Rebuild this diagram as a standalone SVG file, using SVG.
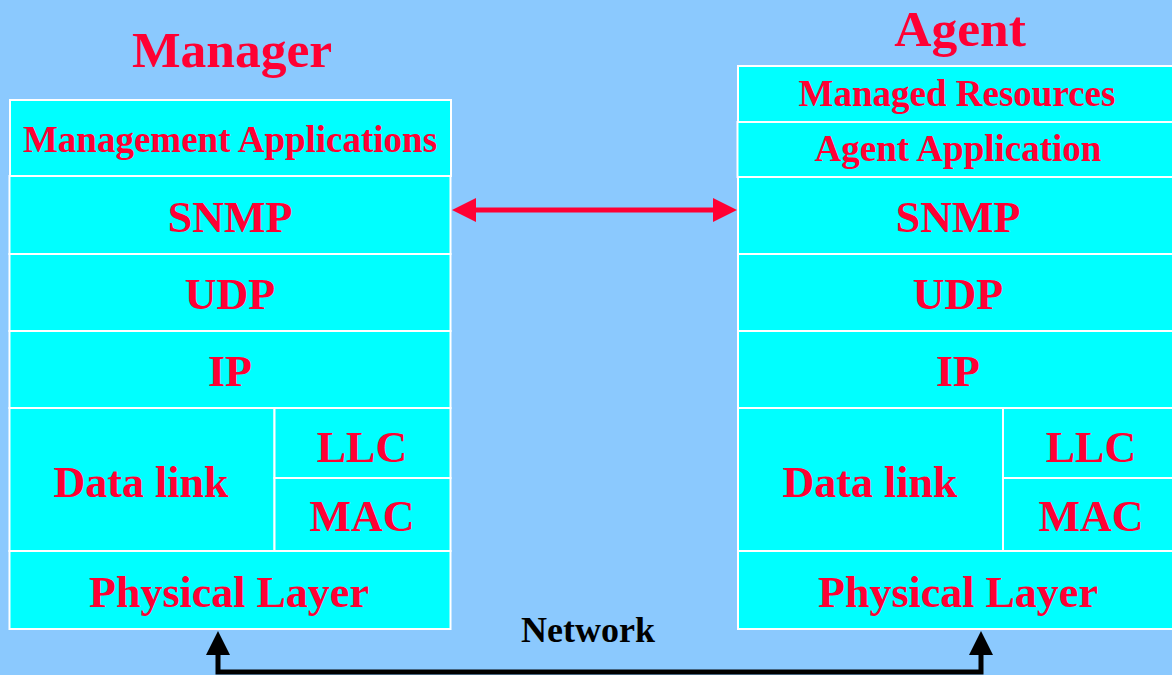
<svg xmlns="http://www.w3.org/2000/svg" width="1172" height="675" viewBox="0 0 1172 675">
<style>
.box{fill:#00FFFF;stroke:#FFFFFF;stroke-width:2}
.t{font-family:"Liberation Serif","Times New Roman",serif;font-weight:bold;fill:#FF0033;text-anchor:middle}
.s44{font-size:44px}
.s36{font-size:37px}
.s50{font-size:51.5px}
</style>
<rect x="0" y="0" width="1172" height="675" fill="#8BC9FE"/>
<text class="t s50" x="232" y="67">Manager</text>
<text class="t s50" x="960" y="46">Agent</text>
<g id="manager">
<g id="m-apps"><rect class="box" x="10" y="100" width="441" height="76"/><text class="t s36" x="230" y="152">Management Applications</text></g>
<g id="m-snmp"><rect class="box" x="9.5" y="176" width="441" height="78"/><text class="t s44" x="230" y="232">SNMP</text></g>
<g id="m-udp"><rect class="box" x="9.5" y="254" width="441" height="77"/><text class="t s44" x="230" y="309">UDP</text></g>
<g id="m-ip"><rect class="box" x="9.5" y="331" width="441" height="77"/><text class="t s44" x="230" y="386">IP</text></g>
<g id="m-dl"><rect class="box" x="9.5" y="408" width="265" height="143"/><text class="t s44" x="141" y="497">Data link</text></g>
<g id="m-llc"><rect class="box" x="274.5" y="408" width="176" height="70"/><text class="t s44" x="362" y="462">LLC</text></g>
<g id="m-mac"><rect class="box" x="274.5" y="478" width="176" height="73"/><text class="t s44" x="362" y="531">MAC</text></g>
<g id="m-phy"><rect class="box" x="9.5" y="551" width="441" height="78"/><text class="t s44" x="229" y="607">Physical Layer</text></g>
</g>
<g id="agent">
<g id="a-res"><rect class="box" x="738" y="66" width="440" height="56"/><text class="t s36" x="957" y="106">Managed Resources</text></g>
<g id="a-app"><rect class="box" x="737.5" y="122" width="440" height="55"/><text class="t s36" x="958" y="161">Agent Application</text></g>
<g id="a-snmp"><rect class="box" x="738" y="177" width="440" height="77"/><text class="t s44" x="958" y="232">SNMP</text></g>
<g id="a-udp"><rect class="box" x="738" y="254" width="440" height="77"/><text class="t s44" x="958" y="309">UDP</text></g>
<g id="a-ip"><rect class="box" x="738" y="331" width="440" height="77"/><text class="t s44" x="958" y="386">IP</text></g>
<g id="a-dl"><rect class="box" x="738" y="408" width="265" height="143"/><text class="t s44" x="870" y="497">Data link</text></g>
<g id="a-llc"><rect class="box" x="1003" y="408" width="175" height="70"/><text class="t s44" x="1091" y="462">LLC</text></g>
<g id="a-mac"><rect class="box" x="1003" y="478" width="175" height="73"/><text class="t s44" x="1091" y="531">MAC</text></g>
<g id="a-phy"><rect class="box" x="738" y="551" width="440" height="78"/><text class="t s44" x="958" y="607">Physical Layer</text></g>
</g>
<g id="connectors">
<line x1="472" y1="210" x2="717" y2="210" stroke="#FF0033" stroke-width="5"/>
<polygon points="452,210 476,198 476,222" fill="#FF0033"/>
<polygon points="737,210 713,198 713,222" fill="#FF0033"/>
<path d="M218,652 V672 H981 V652" fill="none" stroke="#000000" stroke-width="5"/>
<polygon points="218,631 206,655 230,655" fill="#000000"/>
<polygon points="981,631 969,655 993,655" fill="#000000"/>
<text x="588" y="642" font-family="'Liberation Serif','Times New Roman',serif" font-weight="bold" font-size="36" fill="#000000" text-anchor="middle">Network</text>
</g>
</svg>
